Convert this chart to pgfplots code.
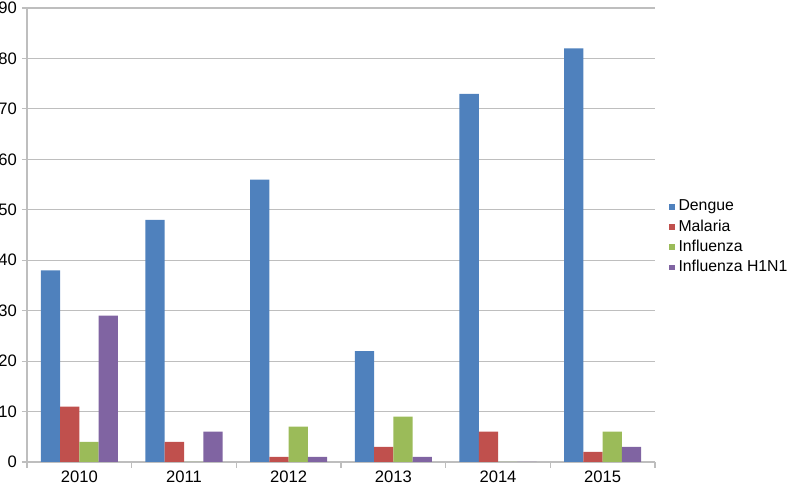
\documentclass[border=0pt]{standalone}
\usepackage{pgfplots}
\pgfplotsset{compat=1.18}
\usepackage{fontspec}
\setmainfont{Liberation Sans}
\definecolor{cDengue}{HTML}{4F81BD}
\definecolor{cMalaria}{HTML}{C0504D}
\definecolor{cInfl}{HTML}{9BBB59}
\definecolor{cHN}{HTML}{8064A2}
\definecolor{gridc}{HTML}{BEBEBE}
\begin{document}
\begin{tikzpicture}
\begin{axis}[
  name=ax,
  scale only axis,
  width=314pt, height=227pt,
  ybar=0pt,
  bar width=0.184,
  xmin=-0.5, xmax=5.5,
  ymin=0, ymax=90,
  xtick={0,1,2,3,4,5},
  xticklabels={2010,2011,2012,2013,2014,2015},
  ytick={0,10,...,90},
  axis x line*=bottom,
  axis y line*=left,
  axis line style={-, draw=gridc, line width=0.6pt},
  ymajorgrids,
  grid style={draw=gridc, line width=0.6pt},
  tick align=outside,
  x tick style={draw=none},
  y tick style={draw=gridc, line width=0.6pt},
  major tick length=2.5pt,
  extra x ticks={-0.5,0.5,1.5,2.5,3.5,4.5,5.5},
  extra x tick labels={},
  extra x tick style={x tick style={draw=gridc, line width=0.6pt}, major tick length=3pt, grid=none},
  /pgf/number format/assume math mode=true,
  tick label style={font=\fontsize{8.3}{10}\selectfont},
  yticklabel style={xshift=1pt},
  xticklabel style={yshift=1.5pt},
  every axis plot/.append style={draw=none, legend image code/.code={\fill[##1] (0pt,-1.4pt) rectangle (2.8pt,1.4pt);}},
  legend style={at={(1.012,0.495)}, anchor=west, draw=none, fill=none,
    font=\fontsize{7.9}{9.5}\selectfont, row sep=-1.1pt,
    /tikz/every even column/.append style={column sep=0.5pt}},
  legend cell align=left,
]
\addplot[fill=cDengue] coordinates {(0,38) (1,48) (2,56) (3,22) (4,73) (5,82)};
\addplot[fill=cMalaria] coordinates {(0,11) (1,4) (2,1) (3,3) (4,6) (5,2)};
\addplot[fill=cInfl] coordinates {(0,4) (1,0) (2,7) (3,9) (4,0) (5,6)};
\addplot[fill=cHN] coordinates {(0,29) (1,6) (2,1) (3,1) (4,0) (5,3)};
\legend{Dengue,Malaria,Influenza,Influenza H1N1}
\end{axis}
\pgfresetboundingbox
\path ([xshift=-13.5pt,yshift=-11pt]ax.south west) rectangle ([xshift=67pt,yshift=4pt]ax.north east);
\end{tikzpicture}
\end{document}
